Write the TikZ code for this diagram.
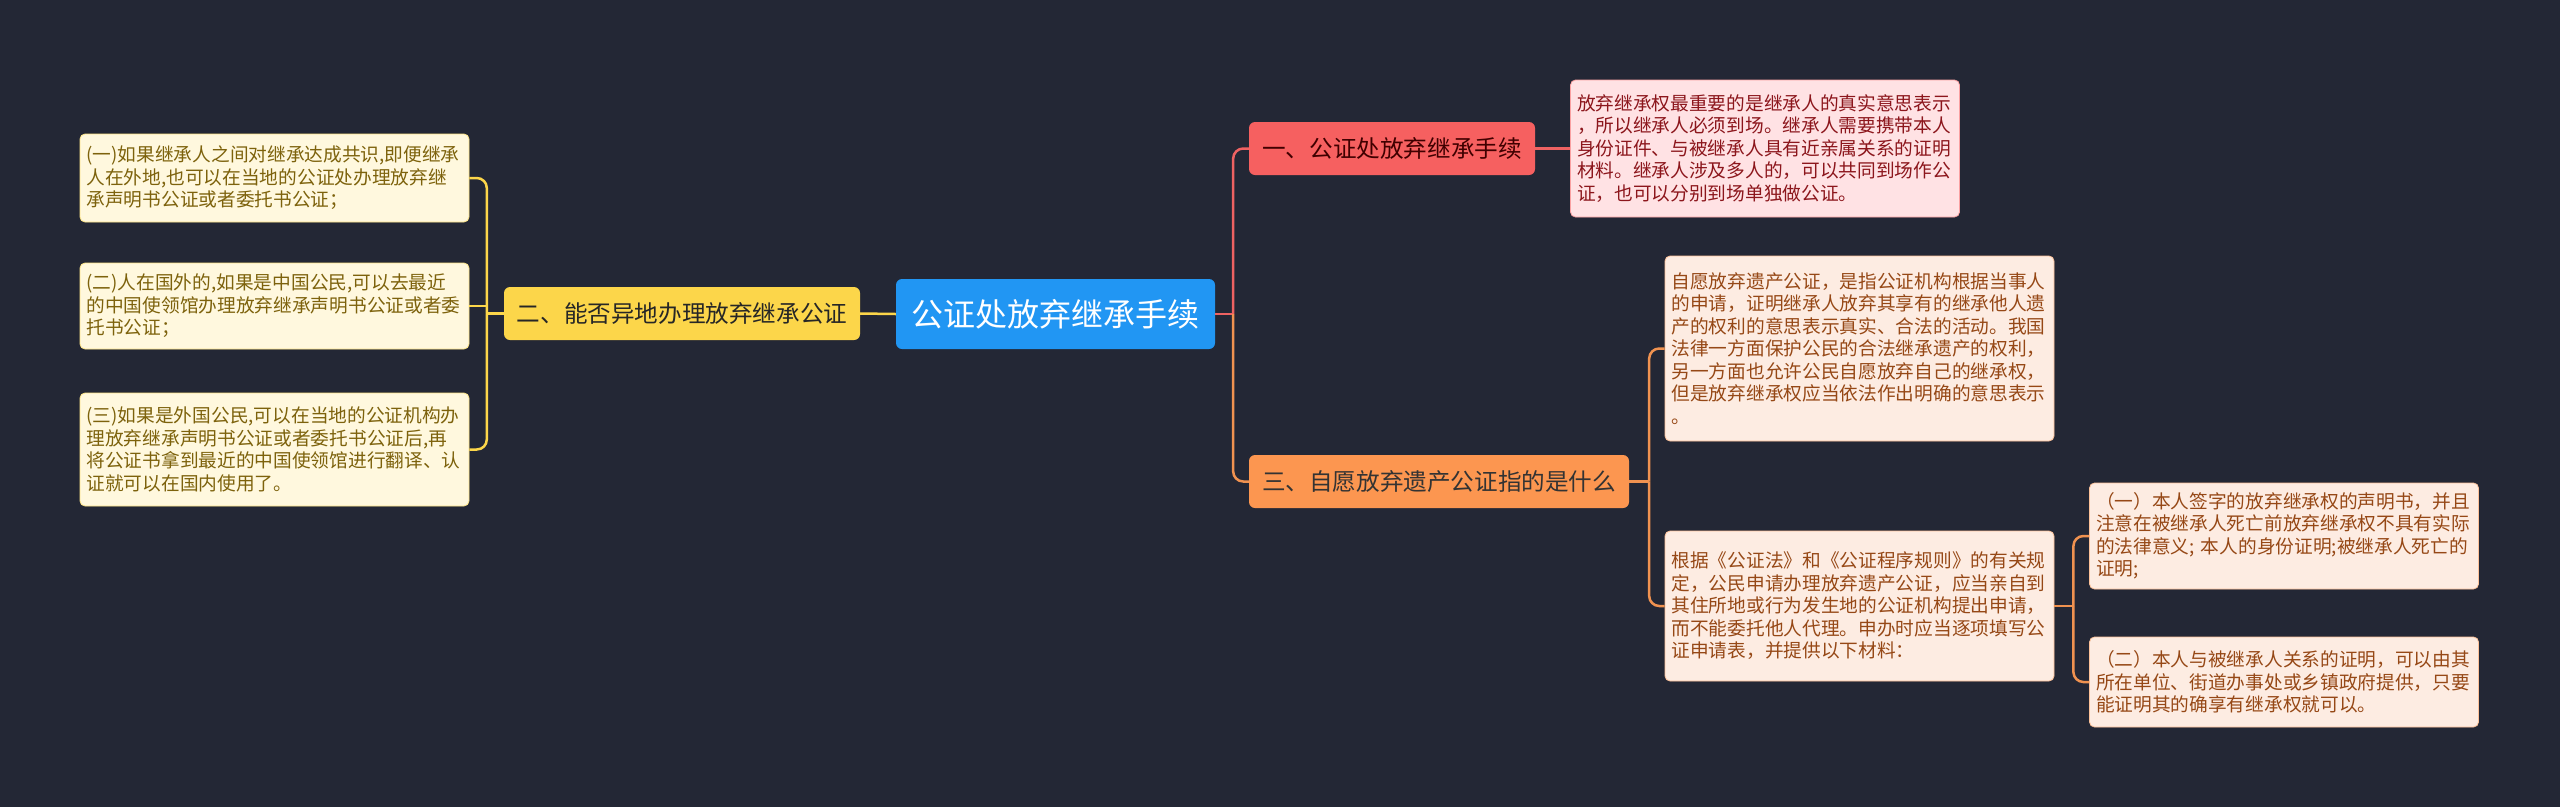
\documentclass[tikz,border=0pt]{standalone}
\usepackage{fontspec}
\setmainfont{Noto Sans CJK SC}
\usetikzlibrary{positioning,calc}
\definecolor{bgNavy}{RGB}{35,39,53}
\definecolor{rootBlue}{RGB}{33,150,243}
\definecolor{yellowTopic}{RGB}{252,214,74}
\definecolor{yellowLeaf}{RGB}{255,248,222}
\definecolor{yellowText}{RGB}{125,98,12}
\definecolor{redTopic}{RGB}{246,96,96}
\definecolor{redLine}{RGB}{238,98,98}
\definecolor{redLeaf}{RGB}{255,226,228}
\definecolor{redText}{RGB}{140,22,28}
\definecolor{orangeTopic}{RGB}{252,150,80}
\definecolor{orangeLine}{RGB}{240,146,80}
\definecolor{orangeLeaf}{RGB}{253,236,226}
\definecolor{orangeText}{RGB}{150,72,22}

\begin{document}
\begin{tikzpicture}[x=1pt,y=-1pt,
  topic/.style={rounded corners=6pt,minimum height=53pt,inner xsep=8pt,
    font=\fontsize{23.6}{28}\selectfont},
  leaf/.style={rounded corners=5pt,align=left,text width=376pt,inner xsep=6.5pt,
    draw,line width=0.8pt,font=\fontsize{18.7}{22.5}\selectfont},
  link/.style={line width=2.5pt}]
  \fill[bgNavy] (0,0) rectangle (2560,807);
  \useasboundingbox (0,0) rectangle (2560,807);

  % root
  \node[rounded corners=6pt,fill=rootBlue,text=white,minimum width=319pt,minimum height=70pt,
    font=\fontsize{32}{36}\selectfont] (root) at (1055.5,314) {公证处放弃继承手续};

  % left side
  \node[topic,fill=yellowTopic,text=black!85,minimum width=356pt] (t2) at (682,313.5)
    {二、能否异地办理放弃继承公证};
  \node[leaf,fill=yellowLeaf,draw=yellowTopic!60!yellowLeaf,text=yellowText,minimum height=88pt] (l1) at (274.5,178)
    {(一)如果继承人之间对继承达成共识,即便继承\\人在外地,也可以在当地的公证处办理放弃继\\承声明书公证或者委托书公证；};
  \node[leaf,fill=yellowLeaf,draw=yellowTopic!60!yellowLeaf,text=yellowText,minimum height=86pt] (l2) at (274.5,306)
    {(二)人在国外的,如果是中国公民,可以去最近\\的中国使领馆办理放弃继承声明书公证或者委\\托书公证；};
  \node[leaf,fill=yellowLeaf,draw=yellowTopic!60!yellowLeaf,text=yellowText,minimum height=113pt] (l3) at (274.5,449.5)
    {(三)如果是外国公民,可以在当地的公证机构办\\理放弃继承声明书公证或者委托书公证后,再\\将公证书拿到最近的中国使领馆进行翻译、认\\证就可以在国内使用了。};

  % right side
  \node[topic,fill=redTopic,text=black!75!red,minimum width=286pt] (t1) at (1392,148.5)
    {一、公证处放弃继承手续};
  \node[leaf,fill=redLeaf,draw=redTopic!50!redLeaf,text=redText,minimum height=137pt] (r1) at (1765,148.5)
    {放弃继承权最重要的是继承人的真实意思表示\\，所以继承人必须到场。继承人需要携带本人\\身份证件、与被继承人具有近亲属关系的证明\\材料。继承人涉及多人的，可以共同到场作公\\证，也可以分别到场单独做公证。};
  \node[topic,fill=orangeTopic,text=black!80,minimum width=380pt] (t3) at (1439,481.5)
    {三、自愿放弃遗产公证指的是什么};
  \node[leaf,fill=orangeLeaf,draw=orangeTopic!50!orangeLeaf,text=orangeText,minimum height=185pt] (r3a) at (1859.5,348.5)
    {自愿放弃遗产公证，是指公证机构根据当事人\\的申请，证明继承人放弃其享有的继承他人遗\\产的权利的意思表示真实、合法的活动。我国\\法律一方面保护公民的合法继承遗产的权利，\\另一方面也允许公民自愿放弃自己的继承权，\\但是放弃继承权应当依法作出明确的意思表示\\。};
  \node[leaf,fill=orangeLeaf,draw=orangeTopic!50!orangeLeaf,text=orangeText,minimum height=150pt] (r3b) at (1859.5,606)
    {根据《公证法》和《公证程序规则》的有关规\\定，公民申请办理放弃遗产公证，应当亲自到\\其住所地或行为发生地的公证机构提出申请，\\而不能委托他人代理。申办时应当逐项填写公\\证申请表，并提供以下材料：};
  \node[leaf,fill=orangeLeaf,draw=orangeTopic!50!orangeLeaf,text=orangeText,minimum height=106pt] (r3b1) at (2284,536)
    {（一）本人签字的放弃继承权的声明书，并且\\注意在被继承人死亡前放弃继承权不具有实际\\的法律意义;~本人的身份证明;被继承人死亡的\\证明;};
  \node[leaf,fill=orangeLeaf,draw=orangeTopic!50!orangeLeaf,text=orangeText,minimum height=90pt] (r3b2) at (2284,682)
    {（二）本人与被继承人关系的证明，可以由其\\所在单位、街道办事处或乡镇政府提供，只要\\能证明其的确享有继承权就可以。};

  % connectors
  \draw[link,yellowTopic] (root.west) -- (t2.east);
  \coordinate (jl) at ($(t2.west)+(-17,0)$);
  \draw[link,yellowTopic] (t2.west) -- (jl);
  \draw[link,yellowTopic,rounded corners=10pt] (jl) |- (l1.east);
  \draw[link,yellowTopic] (jl) |- (l2.east);
  \draw[link,yellowTopic,rounded corners=10pt] (jl) |- (l3.east);

  \coordinate (jr) at ($(root.east)+(18,0)$);
  \draw[link,redLine] (root.east) -- (jr);
  \draw[link,redLine,rounded corners=10pt] (jr) |- (t1.west);
  \draw[link,orangeLine,rounded corners=10pt] (jr) |- (t3.west);
  \draw[link,redLine] (t1.east) -- (r1.west);

  \coordinate (j3) at ($(t3.east)+(20,0)$);
  \draw[link,orangeLine] (t3.east) -- (j3);
  \draw[link,orangeLine,rounded corners=10pt] (j3) |- (r3a.west);
  \draw[link,orangeLine,rounded corners=10pt] (j3) |- (r3b.west);

  \coordinate (j4) at ($(r3b.east)+(19,0)$);
  \draw[link,orangeLine] (r3b.east) -- (j4);
  \draw[link,orangeLine,rounded corners=10pt] (j4) |- (r3b1.west);
  \draw[link,orangeLine,rounded corners=10pt] (j4) |- (r3b2.west);
\end{tikzpicture}
\end{document}
